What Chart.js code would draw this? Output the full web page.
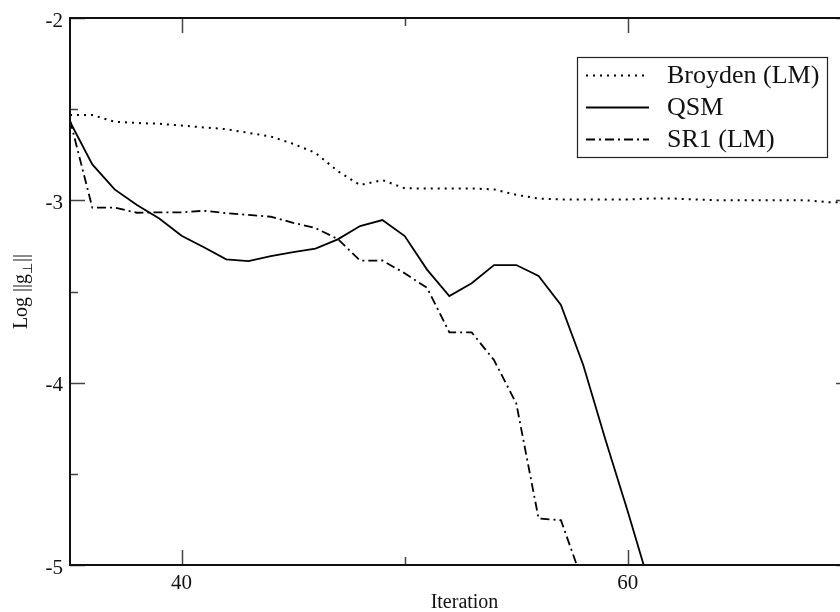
<!DOCTYPE html>
<html>
<head>
<meta charset="utf-8">
<script src="https://cdn.jsdelivr.net/npm/chart.js@4"></script>
<style>
  html, body { margin: 0; padding: 0; background: #fff; overflow: hidden; }
  #wrap { width: 840px; height: 612px; overflow: hidden; }
</style>
</head>
<body>
<div id="wrap"><canvas id="conv" width="852" height="612"></canvas></div>
<script>
const iterations = [35, 36, 37, 38, 39, 40, 41, 42, 43, 44, 45, 46, 47, 48, 49, 50, 51, 52,
  53, 54, 55, 56, 57, 58, 59, 60, 61, 62, 63, 64, 65, 66, 67, 68, 69, 70];

const broyden = [-2.532, -2.532, -2.569, -2.576, -2.58, -2.59, -2.60, -2.61, -2.63, -2.65,
  -2.69, -2.74, -2.84, -2.916, -2.889, -2.934, -2.935, -2.935, -2.935, -2.94, -2.97, -2.99,
  -2.995, -2.995, -2.995, -2.995, -2.99, -2.99, -2.995, -3.0, -3.0, -3.0, -3.0, -3.0, -3.01, -3.01];

const qsm = [-2.569, -2.803, -2.94, -3.026, -3.10, -3.194, -3.257, -3.324, -3.333, -3.306,
  -3.284, -3.265, -3.214, -3.141, -3.108, -3.196, -3.38, -3.525, -3.455, -3.355, -3.355,
  -3.415, -3.574, -3.903, -4.315, -4.708, -5.12];

const sr1 = [-2.56, -3.04, -3.04, -3.068, -3.066, -3.066, -3.057, -3.07, -3.08, -3.09,
  -3.123, -3.152, -3.212, -3.331, -3.33, -3.40, -3.48, -3.724, -3.724, -3.876, -4.114,
  -4.745, -4.754, -5.1];

const seriesNames = ["Broyden (LM)", "QSM", "SR1 (LM)"];
const xTickLabels = [40, 60];
const yTickLabels = [-2, -3, -4, -5];

const FONT = "'Liberation Serif', 'Times New Roman', serif";

function pts(ys) {
  return ys.map((y, i) => ({ x: iterations[i], y: y }));
}

// frame, inward ticks, tick labels, axis titles and legend
const framePlugin = {
  id: "frame",
  afterDraw(chart) {
    const ctx = chart.ctx;
    const a = chart.chartArea;
    const xs = chart.scales.x;
    const ys = chart.scales.y;
    ctx.save();

    // ticks on all four sides
    ctx.strokeStyle = "#444";
    ctx.lineWidth = 1.5;
    for (let v = 40; v <= 70; v += 10) {
      const px = Math.round(xs.getPixelForValue(v)) + 0.5;
      const len = v % 20 === 0 ? 15 : 8;
      ctx.beginPath();
      ctx.moveTo(px, a.bottom); ctx.lineTo(px, a.bottom - len);
      ctx.moveTo(px, a.top); ctx.lineTo(px, a.top + len);
      ctx.stroke();
    }
    for (let v = -5; v <= -2; v += 0.5) {
      const py = Math.round(ys.getPixelForValue(v)) + 0.5;
      const len = Number.isInteger(v) ? 15 : 8;
      ctx.beginPath();
      ctx.moveTo(a.left, py); ctx.lineTo(a.left + len, py);
      ctx.moveTo(a.right, py); ctx.lineTo(a.right - len, py);
      ctx.stroke();
    }

    // frame
    ctx.strokeStyle = "#111";
    ctx.lineWidth = 2;
    ctx.strokeRect(a.left, a.top, a.right - a.left, a.bottom - a.top);

    // tick labels
    ctx.fillStyle = "#111";
    ctx.font = "21px " + FONT;
    ctx.textAlign = "center";
    ctx.textBaseline = "middle";
    xTickLabels.forEach(v => ctx.fillText(String(v), xs.getPixelForValue(v), a.bottom + 18));
    ctx.textAlign = "right";
    yTickLabels.forEach(v => ctx.fillText(String(v), a.left - 7, ys.getPixelForValue(v) + 3));

    // x title
    ctx.font = "20px " + FONT;
    ctx.textAlign = "center";
    ctx.fillText("Iteration", (a.left + a.right) / 2 + 4, 603);

    // y title with subscript
    ctx.save();
    ctx.translate(27, 292);
    ctx.rotate(-Math.PI / 2);
    ctx.textAlign = "left";
    ctx.textBaseline = "alphabetic";
    const main = "Log ||g";
    ctx.font = "20px " + FONT;
    const w1 = ctx.measureText(main).width;
    ctx.font = "13px " + FONT;
    const w2 = ctx.measureText("\u22A5").width;
    ctx.font = "20px " + FONT;
    const w3 = ctx.measureText("||").width;
    let x0 = -(w1 + w2 + w3) / 2;
    ctx.fillText(main, x0, 0);
    ctx.font = "13px " + FONT;
    ctx.fillText("\u22A5", x0 + w1, 5);
    ctx.font = "20px " + FONT;
    ctx.fillText("||", x0 + w1 + w2 + 1, 0);
    ctx.restore();

    // legend
    const lx = 577, ly = 57, lw = 250, lh = 100;
    ctx.fillStyle = "#fff";
    ctx.fillRect(lx, ly, lw, lh);
    ctx.strokeStyle = "#222";
    ctx.lineWidth = 1.2;
    ctx.strokeRect(lx + 0.5, ly + 0.5, lw, lh);
    ctx.font = "26px " + FONT;
    ctx.textAlign = "left";
    ctx.textBaseline = "middle";
    chart.data.datasets.forEach((ds, i) => {
      const yy = ly + 18 + i * 32;
      ctx.strokeStyle = "#000";
      ctx.lineWidth = ds.borderWidth;
      ctx.setLineDash(ds.borderDash || []);
      ctx.beginPath();
      ctx.moveTo(586, yy + 0.5);
      ctx.lineTo(649, yy + 0.5);
      ctx.stroke();
      ctx.setLineDash([]);
      ctx.fillStyle = "#111";
      ctx.fillText(ds.label, 667, yy + 1);
    });
    ctx.restore();
  }
};

new Chart(document.getElementById("conv"), {
  type: "line",
  data: {
    datasets: [
      { label: seriesNames[0], data: pts(broyden), borderColor: "#000", borderWidth: 2,
        borderDash: [2, 5], pointRadius: 0, tension: 0 },
      { label: seriesNames[1], data: pts(qsm), borderColor: "#000", borderWidth: 1.8,
        pointRadius: 0, tension: 0 },
      { label: seriesNames[2], data: pts(sr1), borderColor: "#000", borderWidth: 1.8,
        borderDash: [9, 4, 2, 4], pointRadius: 0, tension: 0 }
    ]
  },
  options: {
    responsive: false,
    animation: false,
    devicePixelRatio: 1,
    layout: { padding: { left: 70, top: 18, right: 1, bottom: 47 } },
    plugins: { legend: { display: false }, tooltip: { enabled: false } },
    scales: {
      x: { type: "linear", min: 35, max: 70, display: false },
      y: { type: "linear", min: -5, max: -2, display: false }
    }
  },
  plugins: [framePlugin]
});
</script>
</body>
</html>
